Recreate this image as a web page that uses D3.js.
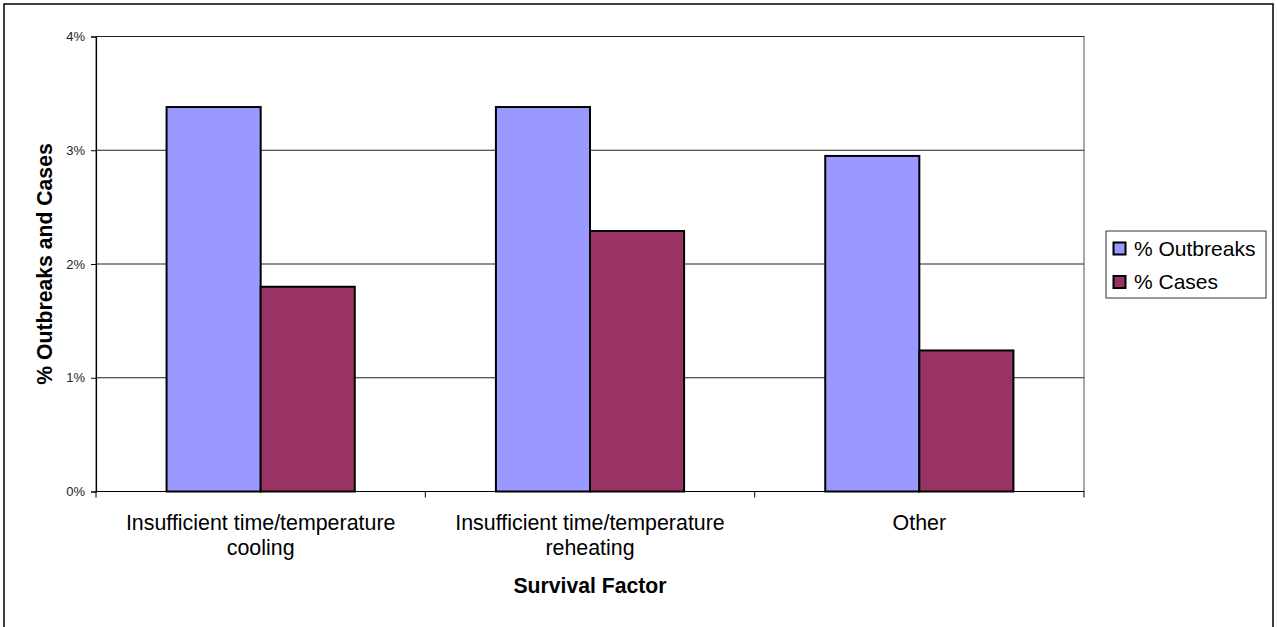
<!DOCTYPE html>
<html>
<head>
<meta charset="utf-8">
<script src="https://cdn.jsdelivr.net/npm/d3@7"></script>
<style>
  html, body { margin: 0; padding: 0; background: #fff; }
  svg { display: block; font-family: "Liberation Sans", Arial, sans-serif; }
</style>
</head>
<body>
<svg id="chart" width="1277" height="627"></svg>
<script>
// Survival factors and the share of outbreaks / cases attributed to each
const categories = [
  ["Insufficient time/temperature", "cooling"],
  ["Insufficient time/temperature", "reheating"],
  ["Other"]
];
const seriesNames = ["% Outbreaks", "% Cases"];
const seriesColors = ["#9999FF", "#993366"];
const outbreaks = [3.38, 3.38, 2.95];
const cases = [1.80, 2.29, 1.24];
const yTickValues = [0, 1, 2, 3, 4];

const svg = d3.select("#chart");
const plot = { left: 96, right: 1084, top: 36.5, bottom: 491.5 };

// outer chart frame
svg.append("rect")
  .attr("x", 4).attr("y", 4)
  .attr("width", 1269).attr("height", 640)
  .attr("fill", "#fff").attr("stroke", "#000").attr("stroke-width", 1.5);

const catKeys = categories.map((c, i) => i);
const x0 = d3.scaleBand().domain(catKeys).range([plot.left, plot.right]).padding(0);
const x1 = d3.scaleBand().domain(seriesNames).range([0, x0.bandwidth()])
  .paddingInner(0).paddingOuter(0.75);
const y = d3.scaleLinear().domain([0, 4]).range([plot.bottom, plot.top]);

// plot-area border
svg.append("rect")
  .attr("x", plot.left).attr("y", plot.top)
  .attr("width", plot.right - plot.left).attr("height", plot.bottom - plot.top)
  .attr("fill", "none").attr("stroke", "#555").attr("stroke-width", 1);

// horizontal gridlines
svg.append("g").selectAll("line")
  .data(yTickValues.slice(1))
  .join("line")
  .attr("x1", plot.left).attr("x2", plot.right)
  .attr("y1", d => y(d)).attr("y2", d => y(d))
  .attr("stroke", "#222").attr("stroke-width", 1);

// y axis
const yAxis = svg.append("g")
  .attr("transform", `translate(${plot.left},0)`)
  .call(d3.axisLeft(y).tickValues(yTickValues).tickSize(5).tickPadding(6)
    .tickFormat(d => d + "%"));
yAxis.attr("font-size", 13).attr("font-family", "'Liberation Sans', Arial, sans-serif");
yAxis.select(".domain").attr("stroke", "#000").attr("stroke-width", 1.2);
yAxis.selectAll(".tick line").attr("stroke", "#000");
yAxis.selectAll(".tick text").attr("fill", "#222");

// bars
const rows = catKeys.map(i => ({ i, values: [outbreaks[i], cases[i]] }));
const groups = svg.append("g").selectAll("g")
  .data(rows)
  .join("g")
  .attr("transform", d => `translate(${x0(d.i)},0)`);
groups.selectAll("rect")
  .data(d => d.values.map((v, k) => ({ v, k })))
  .join("rect")
  .attr("x", d => x1(seriesNames[d.k]))
  .attr("width", x1.bandwidth())
  .attr("y", d => y(d.v))
  .attr("height", d => y(0) - y(d.v))
  .attr("fill", d => seriesColors[d.k])
  .attr("stroke", "#000").attr("stroke-width", 2);

// x axis line and category-boundary ticks
svg.append("line")
  .attr("x1", plot.left).attr("x2", plot.right)
  .attr("y1", plot.bottom).attr("y2", plot.bottom)
  .attr("stroke", "#000").attr("stroke-width", 1.2);
const bounds = catKeys.map(i => x0(i)).concat([plot.right]);
svg.append("g").selectAll("line")
  .data(bounds)
  .join("line")
  .attr("x1", d => d).attr("x2", d => d)
  .attr("y1", plot.bottom).attr("y2", plot.bottom + 6)
  .attr("stroke", "#000").attr("stroke-width", 1);

// category labels
const catLabels = svg.append("g").selectAll("text")
  .data(rows)
  .join("text")
  .attr("x", d => x0(d.i) + x0.bandwidth() / 2)
  .attr("y", 530)
  .attr("text-anchor", "middle")
  .attr("font-size", 21.4)
  .attr("fill", "#000");
catLabels.selectAll("tspan")
  .data(d => categories[d.i])
  .join("tspan")
  .attr("x", function () { return d3.select(this.parentNode).attr("x"); })
  .attr("dy", (d, k) => k === 0 ? 0 : 25)
  .text(d => d);

// axis titles
svg.append("text")
  .attr("x", (plot.left + plot.right) / 2).attr("y", 593)
  .attr("text-anchor", "middle")
  .attr("font-size", 21.2).attr("font-weight", "bold")
  .text("Survival Factor");
svg.append("text")
  .attr("transform", `translate(52,${(plot.top + plot.bottom) / 2}) rotate(-90)`)
  .attr("text-anchor", "middle")
  .attr("font-size", 21.2).attr("font-weight", "bold")
  .text("% Outbreaks and Cases");

// legend
const legend = svg.append("g").attr("transform", "translate(1106,231)");
legend.append("rect")
  .attr("x", 0).attr("y", 0).attr("width", 160).attr("height", 67)
  .attr("fill", "#fff").attr("stroke", "#333").attr("stroke-width", 1);
const items = legend.selectAll("g.item")
  .data(seriesNames)
  .join("g")
  .attr("class", "item")
  .attr("transform", (d, k) => `translate(0,${k * 33.5})`);
items.append("rect")
  .attr("x", 7.5).attr("y", 11.5).attr("width", 12).attr("height", 12)
  .attr("fill", (d, k) => seriesColors[k])
  .attr("stroke", "#000").attr("stroke-width", 2);
items.append("text")
  .attr("x", 28).attr("y", 24.5)
  .attr("font-size", 21).attr("fill", "#000")
  .text(d => d);
</script>
</body>
</html>
